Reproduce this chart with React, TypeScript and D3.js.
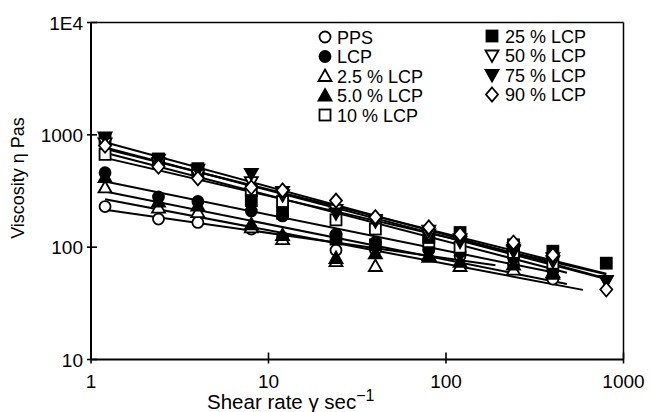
import React from "react";
import * as d3 from "d3";

const shearRates = [1.2, 2.4, 4, 8, 12, 24, 40, 80, 120, 240, 400, 800];

const seriesNames = ["PPS", "LCP", "2.5 % LCP", "5.0 % LCP", "10 % LCP", "25 % LCP", "50 % LCP", "75 % LCP", "90 % LCP"];
const seriesMarkers = ["circleOpen", "circleFilled", "triUpOpen", "triUpFilled", "squareOpen", "squareFilled", "triDownOpen", "triDownFilled", "diamondOpen"];

const ppsValues = [230, 178, 166, 145, 122, 94, 95, 95, 84, 70, 52];
const lcpValues = [460, 280, 255, 210, 190, 130, 110, 95, 90, 80, 62];
const lcp2_5Values = [340, 225, 205, 150, 118, 75, 68, 82, 68, 63, 58];
const lcp5_0Values = [420, 255, 235, 160, 128, 80, 88, 85, 74, 70, 60];
const lcp10Values = [670, 600, 470, 320, 255, 175, 145, 112, 100, 90, 72];
const lcp25Values = [920, 610, 500, 260, 200, 118, 105, 122, 135, 105, 92, 72];
const lcp50Values = [840, 560, 440, 380, 290, 215, 170, 130, 112, 92, 75, 50];
const lcp75Values = [950, 600, 490, 450, 310, 200, 175, 140, 118, 95, 80, 50];
const lcp90Values = [800, 520, 410, 340, 320, 260, 185, 150, 130, 110, 85, 42];

const seriesValues = [ppsValues, lcpValues, lcp2_5Values, lcp5_0Values, lcp10Values, lcp25Values, lcp50Values, lcp75Values, lcp90Values];
const fitLineEnds = [190, 400, 590, 480, 480, 800, 800, 800, 800];

const xTickValues = [1, 10, 100, 1000];
const xTickLabels = ["1", "10", "100", "1000"];
const yTickValues = [10, 100, 1000, 10000];
const yTickLabels = ["10", "100", "1000", "1E4"];

const FONT = "'Liberation Sans', Arial, sans-serif";

function Marker({ kind, x, y }: { kind: string; x: number; y: number }) {
  const sw = 1.8;
  const open = kind.endsWith("Open");
  const fill = open ? "#fff" : "#000";
  const common = { fill, stroke: "#000", strokeWidth: sw };
  if (kind.startsWith("circle")) return <circle cx={x} cy={y} r={5.5} {...common} />;
  if (kind.startsWith("square")) return <rect x={x - 5.5} y={y - 5.5} width={11} height={11} {...common} />;
  let pts: number[][] = [];
  if (kind.startsWith("triUp")) pts = [[0, -6.5], [6.5, 5], [-6.5, 5]];
  else if (kind.startsWith("triDown")) pts = [[0, 6.5], [6.5, -5], [-6.5, -5]];
  else pts = [[0, -7], [6, 0], [0, 7], [-6, 0]];
  return <polygon points={pts.map((p) => `${x + p[0]},${y + p[1]}`).join(" ")} {...common} strokeLinejoin="miter" />;
}

export default function App() {
  const W = 650, H = 412;
  const x = d3.scaleLog().domain([1, 1000]).range([91, 623.5]);
  const y = d3.scaleLog().domain([10, 10000]).range([359.5, 22.5]);

  const fits = seriesValues.map((vals, i) => {
    const pts = vals.map((v, j) => [Math.log10(shearRates[j]), Math.log10(v)]);
    const mx = d3.mean(pts, (p) => p[0])!;
    const my = d3.mean(pts, (p) => p[1])!;
    const sxy = d3.sum(pts, (p) => (p[0] - mx) * (p[1] - my));
    const sxx = d3.sum(pts, (p) => (p[0] - mx) ** 2);
    const b = sxy / sxx;
    const a = my - b * mx;
    const x0 = shearRates[0];
    const x1 = fitLineEnds[i];
    return [
      [x0, Math.pow(10, a + b * Math.log10(x0))],
      [x1, Math.pow(10, a + b * Math.log10(x1))],
    ];
  });

  const line = d3.line<number[]>().x((d) => x(d[0])).y((d) => y(d[1]));

  const legendLeft = { mx: 325, tx: 337, y0: 37, dy: 19.5 };
  const legendRight = { mx: 492, tx: 505, y0: 36, dy: 19.5 };

  return (
    <svg width={W} height={H} style={{ position: "absolute", left: 0, top: 0, background: "#fff" }} fontFamily={FONT}>
      <rect x={0} y={0} width={W} height={H} fill="#fff" />
      {/* frame */}
      <line x1={x(1)} x2={x(1000)} y1={y(10000)} y2={y(10000)} stroke="#000" strokeWidth={1.3} />
      <line x1={x(1000)} x2={x(1000)} y1={y(10000)} y2={y(10)} stroke="#000" strokeWidth={1.5} />
      <line x1={x(1)} x2={x(1)} y1={y(10000)} y2={y(10)} stroke="#000" strokeWidth={2} />
      <line x1={x(1)} x2={x(1000)} y1={y(10)} y2={y(10)} stroke="#000" strokeWidth={2} />
      {/* ticks */}
      {xTickValues.map((t, i) => (
        <g key={"xt" + i}>
          <line x1={x(t)} x2={x(t)} y1={y(10) - 7} y2={y(10) + 4} stroke="#000" strokeWidth={1.6} />
          <text x={x(t)} y={388} fontSize={19} textAnchor="middle">{xTickLabels[i]}</text>
        </g>
      ))}
      {yTickValues.map((t, i) => (
        <g key={"yt" + i}>
          <line x1={x(1) - 4} x2={x(1) + 6} y1={y(t)} y2={y(t)} stroke="#000" strokeWidth={1.6} />
          <text x={83} y={y(t) + 7} fontSize={19} textAnchor="end">{yTickLabels[i]}</text>
        </g>
      ))}
      {/* axis titles */}
      <text x={207} y={409} fontSize={20.5}>
        Shear rate γ sec<tspan dy={-8} fontSize={16}>−1</tspan>
      </text>
      <text transform={`translate(24,178) rotate(-90)`} fontSize={18} textAnchor="middle">Viscosity η Pas</text>
      {/* fit lines */}
      {fits.map((f, i) => (
        <path key={"f" + i} d={line(f) || ""} fill="none" stroke="#000" strokeWidth={2} />
      ))}
      {/* points */}
      {seriesValues.map((vals, i) => (
        <g key={"s" + i}>
          {vals.map((v, j) => (
            <Marker key={j} kind={seriesMarkers[i]} x={x(shearRates[j])} y={y(v)} />
          ))}
        </g>
      ))}
      {/* legend */}
      {seriesNames.map((name, i) => {
        const col = i < 5 ? legendLeft : legendRight;
        const row = i < 5 ? i : i - 5;
        const cy = col.y0 + row * col.dy;
        return (
          <g key={"lg" + i}>
            <Marker kind={seriesMarkers[i]} x={col.mx} y={cy} />
            <text x={col.tx} y={cy + 6.5} fontSize={18}>{name}</text>
          </g>
        );
      })}
    </svg>
  );
}
